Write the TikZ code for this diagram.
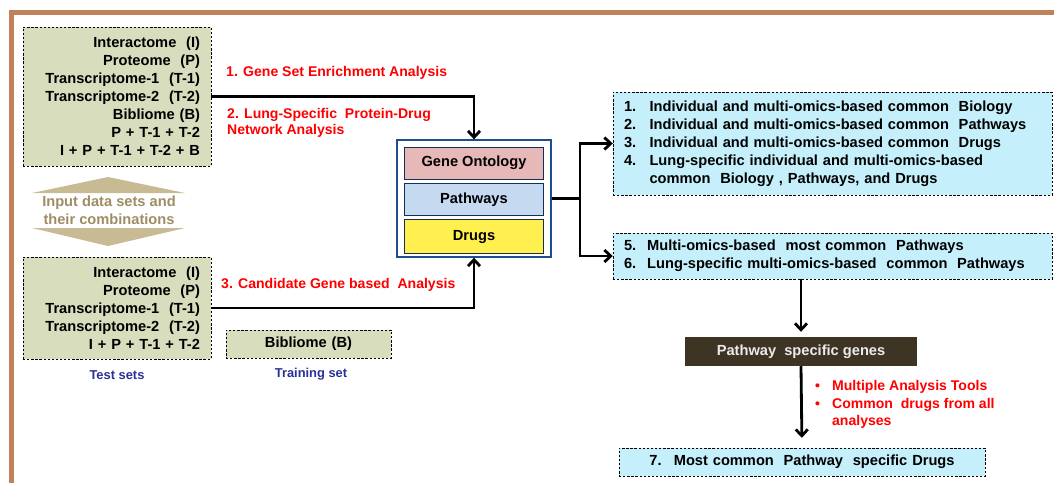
\documentclass[tikz,border=0pt]{standalone}
\usepackage{fontspec}
\setmainfont{Liberation Sans}
\usetikzlibrary{positioning,arrows.meta}

\definecolor{frameBrown}{RGB}{192,128,90}
\definecolor{inputGreen}{RGB}{215,221,189}
\definecolor{arrowTan}{RGB}{200,186,146}
\definecolor{tanText}{RGB}{158,140,100}
\definecolor{resultCyan}{RGB}{197,240,251}
\definecolor{boxBlue}{RGB}{31,78,140}
\definecolor{goPink}{RGB}{230,185,184}
\definecolor{pwBlue}{RGB}{197,217,241}
\definecolor{drugYellow}{RGB}{255,240,80}
\definecolor{genesBrown}{RGB}{62,52,36}
\definecolor{labelBlue}{RGB}{40,50,150}

\tikzset{
  inputbox/.style={draw, dash pattern=on 2pt off 1.5pt, fill=inputGreen, text width=49.8mm, inner xsep=3.3mm, align=right},
  resultbox/.style={draw, dash pattern=on 2pt off 1.5pt, fill=resultCyan, inner xsep=3.3mm, align=left},
  layer/.style={draw=boxBlue!60!black, line width=0.8pt, minimum width=41.7mm, minimum height=9.6mm},
  analysis/.style={text=red, font=\bfseries\fontsize{12}{13.7}\selectfont, align=left, anchor=west, inner xsep=0pt},
  setlabel/.style={text=labelBlue, font=\bfseries\fontsize{11}{13}\selectfont},
  flow/.style={->, line width=2.4pt}
}

\begin{document}
\begin{tikzpicture}[x=0.3mm, y=-0.3mm, font=\bfseries\fontsize{12.5}{15.4}\selectfont, >={Straight Barb[length=1.9mm,width=3.6mm]}]
\useasboundingbox (0,0) rectangle (1054,483);
\draw[frameBrown, line width=1.5mm] (11,483) -- (11,12) -- (1054,12);

% input data sets
\node[inputbox, minimum height=41.7mm] (inA) at (117,96.5) {Interactome~ (I)\\Proteome~ (P)\\Transcriptome-1~ (T-1)\\Transcriptome-2~ (T-2)\\Bibliome (B)\\P + T-1 + T-2\\I + P + T-1 + T-2 + B};
\node[inputbox, minimum height=30.6mm] (inB) at (117,308) {Interactome~ (I)\\Proteome~ (P)\\Transcriptome-1~ (T-1)\\Transcriptome-2~ (T-2)\\I + P + T-1 + T-2};
\node[inputbox, text width=42.9mm, align=center, minimum height=8.4mm] (train) at (308.5,344) {Bibliome (B)};
\node[setlabel] (testlbl) at (117,375) {Test sets};
\node[setlabel] (trainlbl) at (311,374) {Training set};

% double arrow
\fill[arrowTan] (32,193) -- (108,177) -- (185,193) -- cycle
  (32,228) -- (108,246) -- (185,228) -- cycle;
\node[text=tanText, align=center] (combo) at (109,210) {Input data sets and\\their combinations};

% analysis core
\node[draw=boxBlue, line width=1.2pt, fill=white, minimum width=46.2mm, minimum height=35.1mm] (core) at (474,198.5) {};
\node[layer, fill=goPink] (go) at (474,163) {Gene Ontology};
\node[layer, fill=pwBlue, below=1.2mm of go] (pw) {Pathways};
\node[layer, fill=drugYellow, minimum height=10.2mm, below=0.9mm of pw] (drug) {Drugs};

% results
\node[resultbox, text width=125.1mm, minimum height=30.9mm] (res1) at (832.5,143.5) {\begin{tabular}{@{}l@{\hspace{4mm}}l@{}}
1.&Individual and multi-omics-based common~ Biology\\
2.&Individual and multi-omics-based common~ Pathways\\
3.&Individual and multi-omics-based common~ Drugs\\
4.&Lung-specific individual and multi-omics-based\\
&common~ Biology , Pathways, and Drugs
\end{tabular}};
\node[resultbox, text width=125.1mm, minimum height=13.8mm] (res2) at (832.5,256) {\begin{tabular}{@{}l@{\hspace{3.3mm}}l@{}}
5.&Multi-omics-based~ most common~ Pathways\\
6.&Lung-specific multi-omics-based~ common~ Pathways
\end{tabular}};
\node[fill=genesBrown, text=white!92!black, minimum width=69.6mm, minimum height=8.7mm] (genes) at (801,351.5) {Pathway~ specific genes};
\node[resultbox, align=center, text width=103.2mm, minimum height=8.4mm] (final) at (802,462) {7.~ Most common~ Pathway~ specific Drugs};

% labels
\node[analysis] (gsea) at (226,73) {1. Gene Set Enrichment Analysis};
\node[analysis] (ppi) at (227,123) {2. Lung-Specific~ Protein-Drug\\Network Analysis};
\node[analysis] (cand) at (221,285) {3. Candidate Gene based~ Analysis};
\node[analysis, font=\bfseries\fontsize{12}{15}\selectfont] (tools) at (815,404.5) {\begin{tabular}{@{}l@{\hspace{3.6mm}}l@{}}
\textbullet&Multiple Analysis Tools\\
\textbullet&Common~ drugs from all\\
&analyses
\end{tabular}};

% connectors
\coordinate (split) at (580,198.5);
\draw[flow] (inA.east) -| (core.north);
\draw[flow] (inB.east) -| (core.south);
\draw[line width=2.4pt] (core.east) -- (split);
\draw[flow] (split) |- (res1.west);
\draw[flow] (split) |- (res2.west);
\draw[flow, shorten >=1.5mm] (res2.south -| genes.north) -- (genes.north);
\draw[flow, shorten >=3mm] (genes.south) -- (final.north);
\end{tikzpicture}
\end{document}
